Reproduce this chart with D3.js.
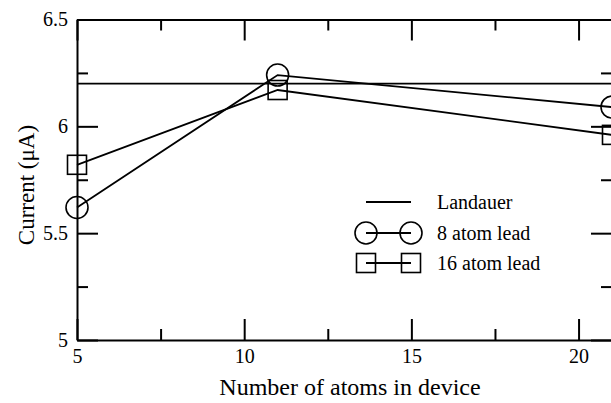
<html>
<head>
<meta charset="utf-8">
<style>
  body { margin: 0; background: #fff; }
  text { font-family: "Liberation Serif", "Times New Roman", serif; fill: #000; }
</style>
</head>
<body>
<script src="https://d3js.org/d3.v7.min.js"></script>
<script>
// data
var atoms = [5, 11, 21];
var lead8 = [5.62, 6.24, 6.09];
var lead16 = [5.82, 6.17, 5.96];
var landauer = 6.2;
var xTicks = [5, 10, 15, 20];
var xMinor = [7.5, 12.5, 17.5];
var yTicks = [5, 5.5, 6, 6.5];
var yMinor = [5.25, 5.75, 6.25];
var legendNames = ["Landauer", "8 atom lead", "16 atom lead"];

var width = 611, height = 403;
var plotL = 77, plotR = 612, plotT = 19.5, plotB = 340;

var x = d3.scaleLinear().domain([5, 21]).range([plotL, plotR]);
var y = d3.scaleLinear().domain([5, 6.5]).range([plotB, plotT]);

var svg = d3.select("body").append("svg")
    .attr("width", width)
    .attr("height", height);

function styleAxis(g) {
    g.selectAll("path.domain").attr("stroke", "#000").attr("stroke-width", 2);
    g.selectAll(".tick line").attr("stroke", "#000").attr("stroke-width", 2);
    g.selectAll(".tick text")
        .style("font-family", "'Liberation Serif', serif")
        .style("font-size", "20px")
        .attr("fill", "#000");
}

// major ticks
svg.append("g").attr("transform", `translate(0,${plotB})`)
    .call(d3.axisBottom(x).tickValues(xTicks).tickFormat(d3.format("d"))
        .tickSizeInner(-21).tickSizeOuter(0).tickPadding(9))
    .call(styleAxis);
svg.append("g").attr("transform", `translate(0,${plotT})`)
    .call(d3.axisTop(x).tickValues(xTicks).tickFormat("")
        .tickSizeInner(-21).tickSizeOuter(0))
    .call(styleAxis);
svg.append("g").attr("transform", `translate(${plotL},0)`)
    .call(d3.axisLeft(y).tickValues(yTicks).tickFormat(d => d3.format("")(d))
        .tickSizeInner(-21).tickSizeOuter(0).tickPadding(9))
    .call(styleAxis);
svg.append("g").attr("transform", `translate(${plotR},0)`)
    .call(d3.axisRight(y).tickValues(yTicks).tickFormat("")
        .tickSizeInner(-21).tickSizeOuter(0))
    .call(styleAxis);

// minor ticks
svg.append("g").attr("transform", `translate(0,${plotB})`)
    .call(d3.axisBottom(x).tickValues(xMinor).tickFormat("").tickSizeInner(-11).tickSizeOuter(0))
    .call(styleAxis).select(".domain").remove();
svg.append("g").attr("transform", `translate(0,${plotT})`)
    .call(d3.axisTop(x).tickValues(xMinor).tickFormat("").tickSizeInner(-11).tickSizeOuter(0))
    .call(styleAxis).select(".domain").remove();
svg.append("g").attr("transform", `translate(${plotL},0)`)
    .call(d3.axisLeft(y).tickValues(yMinor).tickFormat("").tickSizeInner(-11).tickSizeOuter(0))
    .call(styleAxis).select(".domain").remove();
svg.append("g").attr("transform", `translate(${plotR},0)`)
    .call(d3.axisRight(y).tickValues(yMinor).tickFormat("").tickSizeInner(-11).tickSizeOuter(0))
    .call(styleAxis).select(".domain").remove();

// axis titles
svg.append("text")
    .attr("x", 350).attr("y", 395)
    .attr("text-anchor", "middle")
    .style("font-size", "24px")
    .text("Number of atoms in device");
svg.append("text")
    .attr("transform", "translate(34,185) rotate(-90)")
    .attr("text-anchor", "middle")
    .style("font-size", "23px")
    .text("Current (\u03bcA)");

// Landauer line
svg.append("line")
    .attr("x1", plotL).attr("x2", plotR)
    .attr("y1", y(landauer)).attr("y2", y(landauer))
    .attr("stroke", "#000").attr("stroke-width", 1.8);

var line = d3.line().x((d, i) => x(atoms[i])).y(d => y(d));

var series = [
    { values: lead8, shape: "circle" },
    { values: lead16, shape: "square" }
];

function marker(sel, shape) {
    if (shape === "circle") {
        sel.append("circle").attr("r", 11)
            .attr("fill", "none").attr("stroke", "#000").attr("stroke-width", 1.6);
    } else {
        sel.append("rect").attr("x", -9.5).attr("y", -9.5)
            .attr("width", 19).attr("height", 19)
            .attr("fill", "none").attr("stroke", "#000").attr("stroke-width", 1.6);
    }
}

series.forEach(s => {
    svg.append("path")
        .attr("d", line(s.values))
        .attr("fill", "none").attr("stroke", "#000").attr("stroke-width", 1.8);
    svg.selectAll(null).data(s.values).join("g")
        .attr("transform", (d, i) => `translate(${x(atoms[i])},${y(d)})`)
        .each(function () { marker(d3.select(this), s.shape); });
});

// legend
var lg = svg.append("g");
var rowY = [202, 233, 263];
var shapes = [null, "circle", "square"];
legendNames.forEach((name, i) => {
    var r = lg.append("g").attr("transform", `translate(0,${rowY[i]})`);
    r.append("line").attr("x1", 366).attr("x2", 411)
        .attr("stroke", "#000").attr("stroke-width", 1.8);
    if (shapes[i]) {
        r.append("g").attr("transform", "translate(366,0)").call(marker, shapes[i]);
        r.append("g").attr("transform", "translate(411,0)").call(marker, shapes[i]);
    }
    r.append("text").attr("x", 437).attr("y", 6.5)
        .style("font-size", "20px")
        .text(name);
});
</script>
</body>
</html>
